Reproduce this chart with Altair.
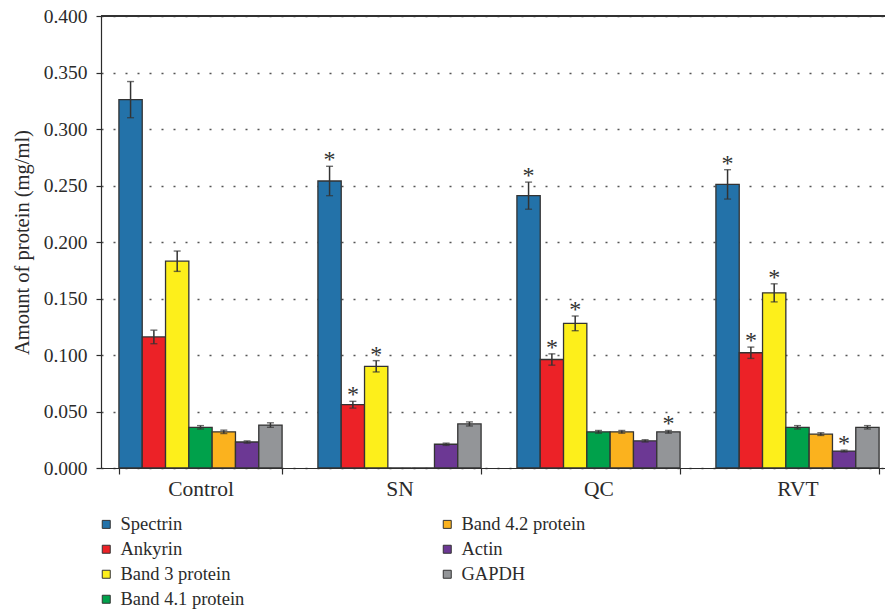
import altair as alt
import pandas as pd

# Groups on the x axis and proteins drawn within each group
groups = ["Control", "SN", "QC", "RVT"]
proteins = ["Spectrin", "Ankyrin", "Band 3 protein", "Band 4.1 protein",
            "Band 4.2 protein", "Actin", "GAPDH"]
colors = ["#2372A9", "#EC2227", "#FDEF1B", "#00A14B", "#FBB21E", "#6C3894", "#939598"]

# Mean amount of protein (mg/ml), one list per protein, ordered as `groups`
spectrin = [0.326, 0.254, 0.241, 0.251]
ankyrin = [0.116, 0.056, 0.096, 0.102]
band3 = [0.183, 0.090, 0.128, 0.155]
band41 = [0.036, 0.000, 0.032, 0.036]
band42 = [0.032, 0.000, 0.032, 0.030]
actin = [0.023, 0.021, 0.024, 0.015]
gapdh = [0.038, 0.039, 0.032, 0.036]

# Standard errors
spectrin_err = [0.016, 0.013, 0.012, 0.013]
ankyrin_err = [0.006, 0.003, 0.005, 0.005]
band3_err = [0.009, 0.005, 0.0065, 0.008]
band41_err = [0.0015, 0.0, 0.0012, 0.0015]
band42_err = [0.0015, 0.0, 0.0012, 0.0012]
actin_err = [0.001, 0.001, 0.001, 0.0008]
gapdh_err = [0.002, 0.0018, 0.0012, 0.0015]

# Significant difference from control (asterisk)
spectrin_sig = [False, True, True, True]
ankyrin_sig = [False, True, True, True]
band3_sig = [False, True, True, True]
band41_sig = [False, False, False, False]
band42_sig = [False, False, False, False]
actin_sig = [False, False, False, True]
gapdh_sig = [False, False, True, False]

means = [spectrin, ankyrin, band3, band41, band42, actin, gapdh]
errs = [spectrin_err, ankyrin_err, band3_err, band41_err, band42_err, actin_err, gapdh_err]
sigs = [spectrin_sig, ankyrin_sig, band3_sig, band41_sig, band42_sig, actin_sig, gapdh_sig]

rows = []
for p, m, e, s in zip(proteins, means, errs, sigs):
    for g, mv, ev, sv in zip(groups, m, e, s):
        rows.append({"group": g, "protein": p, "mean": mv, "err": ev,
                     "lo": mv - ev, "hi": mv + ev, "sig": sv})
df = pd.DataFrame(rows)

FONT = "Liberation Serif"
INK = "#2b2b2b"

x_enc = alt.X(
    "group:N", sort=groups,
    scale=alt.Scale(range=[0, 796], paddingInner=0.18, paddingOuter=0.09),
    axis=alt.Axis(title=None, labelAngle=0, tickBand="extent", labelFontSize=21.5,
                  labelPadding=4, tickSize=6, tickColor=INK, domainColor=INK,
                  tickWidth=1.2, domainWidth=1.2, labelColor=INK, labelFont=FONT),
)
xo_enc = alt.XOffset("protein:N", scale=alt.Scale(domain=proteins))
y_scale = alt.Scale(domain=[0, 0.4], nice=False)

base = alt.Chart(df).encode(x=x_enc, xOffset=xo_enc)

bars = base.mark_bar(stroke="#333333", strokeWidth=1.3).encode(
    y=alt.Y("mean:Q", scale=y_scale,
            axis=alt.Axis(title="Amount of protein (mg/ml)",
                          values=[0, 0.05, 0.1, 0.15, 0.2, 0.25, 0.3, 0.35, 0.4],
                          format=".3f", labelFontSize=19.5, labelFont=FONT,
                          labelColor=INK, titleFont=FONT, titleFontSize=20.5,
                          titleFontWeight="normal", titleColor=INK, titlePadding=11,
                          tickSize=5, tickColor=INK, domainColor=INK,
                          tickWidth=1.2, domainWidth=1.2, labelPadding=9,
                          grid=True, gridDash=[2, 10], gridColor="#555555",
                          gridWidth=1.6)),
    color=alt.Color(
        "protein:N",
        scale=alt.Scale(domain=proteins, range=colors),
        legend=alt.Legend(title=None, orient="none", legendX=-4, legendY=499,
                          columns=2, direction="vertical", symbolType="square",
                          symbolSize=64, symbolStrokeColor="#333333",
                          symbolStrokeWidth=1, labelFont=FONT, labelFontSize=18.5,
                          labelColor=INK, labelOffset=5, rowPadding=6,
                          columnPadding=193, padding=0, labelLimit=300),
    ),
)

has_err = base.transform_filter("datum.err > 0")
err_lines = has_err.mark_rule(color="#333333", strokeWidth=1.5).encode(
    y=alt.Y("lo:Q", scale=y_scale), y2="hi:Q")
caps_hi = has_err.mark_tick(color="#333333", thickness=1.4, size=7).encode(
    y=alt.Y("hi:Q", scale=y_scale))
caps_lo = has_err.mark_tick(color="#333333", thickness=1.4, size=7).encode(
    y=alt.Y("lo:Q", scale=y_scale))

stars = base.transform_filter("datum.sig").mark_text(
    text="*", font=FONT, fontSize=24, color="#333333", baseline="alphabetic", dy=1
).encode(y=alt.Y("hi:Q", scale=y_scale))

top_line = alt.Chart(df).mark_rule(color="#333333", strokeWidth=1.5).encode(
    y=alt.datum(0.4, scale=y_scale))

chart = alt.layer(bars, err_lines, caps_hi, caps_lo, stars, top_line).properties(
    width=784, height=452,
    autosize=alt.AutoSizeParams(type="none"),
    padding={"left": 101, "top": 16, "right": 0, "bottom": 148},
).configure_view(stroke=None)

chart.save("out.html", embed_options={"renderer": "svg", "actions": False})
